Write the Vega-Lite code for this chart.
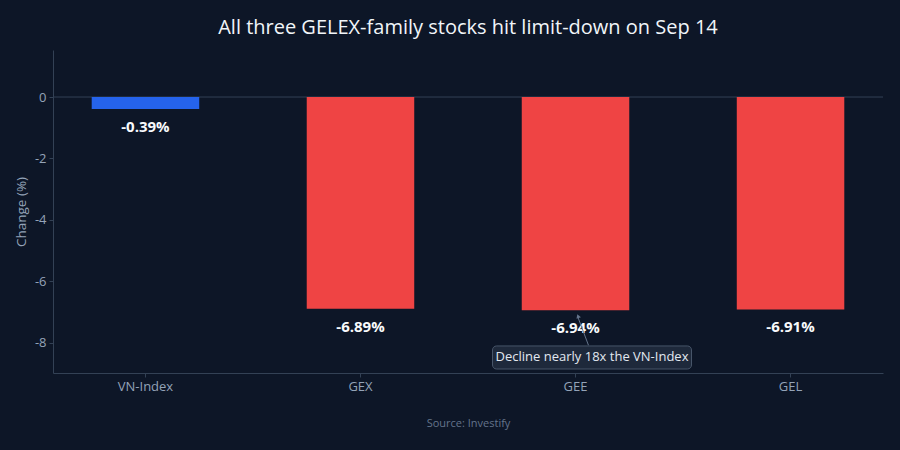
{
  "$schema": "https://vega.github.io/schema/vega-lite/v6.json",
  "autosize": {"type": "none"},
  "width": 830,
  "height": 323,
  "padding": {"left": 53, "top": 50, "right": 17, "bottom": 77},
  "background": "#0d1627",
  "config": {
    "view": {"stroke": null},
    "font": "Open Sans"
  },
  "title": {
    "text": "All three GELEX-family stocks hit limit-down on Sep 14",
    "fontSize": 20,
    "fontWeight": "normal",
    "color": "#f1f5f9",
    "anchor": "middle",
    "frame": "group",
    "offset": 12
  },
  "datasets": {
    "bars": [
      {"ticker": "VN-Index", "change": -0.39, "group": "index", "label": "-0.39%"},
      {"ticker": "GEX", "change": -6.89, "group": "stock", "label": "-6.89%"},
      {"ticker": "GEE", "change": -6.94, "group": "stock", "label": "-6.94%"},
      {"ticker": "GEL", "change": -6.91, "group": "stock", "label": "-6.91%"}
    ],
    "note": [
      {"ticker": "GEE", "top": -8.10, "bottom": -8.85, "mid": -8.47, "tip": -7.13, "tail": -8.08, "text": "Decline nearly 18x the VN-Index"}
    ]
  },
  "encoding": {
    "x": {
      "field": "ticker",
      "type": "nominal",
      "sort": ["VN-Index", "GEX", "GEE", "GEL"],
      "scale": {"paddingInner": 0.5, "paddingOuter": 0.18},
      "axis": {
        "title": "Source: Investify",
        "titleFontSize": 11,
        "titleFontWeight": "normal",
        "titleColor": "#64748b",
        "titlePadding": 24,
        "labelAngle": 0,
        "labelFontSize": 13,
        "labelColor": "#94a3b8",
        "labelPadding": 3,
        "tickSize": 4,
        "tickColor": "#334155",
        "domainColor": "#334155"
      }
    }
  },
  "layer": [
    {
      "data": {"values": [{"z": 0}]},
      "mark": {"type": "rule", "color": "#334155", "strokeWidth": 1},
      "encoding": {"y": {"field": "z", "type": "quantitative"}, "x": null}
    },
    {
      "data": {"name": "bars"},
      "mark": {"type": "bar"},
      "encoding": {
        "y": {
          "field": "change",
          "type": "quantitative",
          "scale": {"domain": [-8.98, 1.53], "nice": false, "zero": false},
          "axis": {
            "title": "Change (%)",
            "titleFontSize": 13.5,
            "titleFontWeight": "normal",
            "titleColor": "#94a3b8",
            "titlePadding": 6,
            "values": [0, -2, -4, -6, -8],
            "labelExpr": "'' + datum.value",
            "grid": false,
            "labelFontSize": 13,
            "labelColor": "#94a3b8",
            "labelPadding": 3,
            "tickSize": 4,
            "tickColor": "#334155",
            "domainColor": "#334155"
          }
        },
        "y2": {"datum": 0},
        "color": {
          "field": "group",
          "type": "nominal",
          "scale": {"domain": ["index", "stock"], "range": ["#2563eb", "#ef4444"]},
          "legend": null
        }
      }
    },
    {
      "data": {"name": "bars"},
      "mark": {"type": "text", "baseline": "middle", "dy": 18, "fontSize": 15, "fontWeight": "bold", "color": "#f8fafc"},
      "encoding": {
        "y": {"field": "change", "type": "quantitative"},
        "text": {"field": "label"}
      }
    },
    {
      "data": {"name": "note"},
      "mark": {"type": "rule", "color": "#64748b", "strokeWidth": 1, "xOffset": 2, "x2Offset": 13},
      "encoding": {
        "x2": {"field": "ticker"},
        "y": {"field": "tip", "type": "quantitative"},
        "y2": {"field": "tail"}
      }
    },
    {
      "data": {"name": "note"},
      "mark": {"type": "point", "shape": "triangle-up", "filled": true, "size": 22, "angle": -20, "color": "#64748b", "opacity": 1, "xOffset": 2.5},
      "encoding": {
        "y": {"field": "tip", "type": "quantitative"}
      }
    },
    {
      "data": {"name": "note"},
      "mark": {"type": "bar", "width": 199, "xOffset": 16.5, "cornerRadius": 4, "fill": "#1e293b", "stroke": "#475569", "strokeWidth": 1},
      "encoding": {
        "y": {"field": "top", "type": "quantitative"},
        "y2": {"field": "bottom"}
      }
    },
    {
      "data": {"name": "note"},
      "mark": {"type": "text", "baseline": "middle", "xOffset": 16.5, "fontSize": 13, "color": "#e2e8f0"},
      "encoding": {
        "y": {"field": "mid", "type": "quantitative"},
        "text": {"field": "text"}
      }
    }
  ]
}
